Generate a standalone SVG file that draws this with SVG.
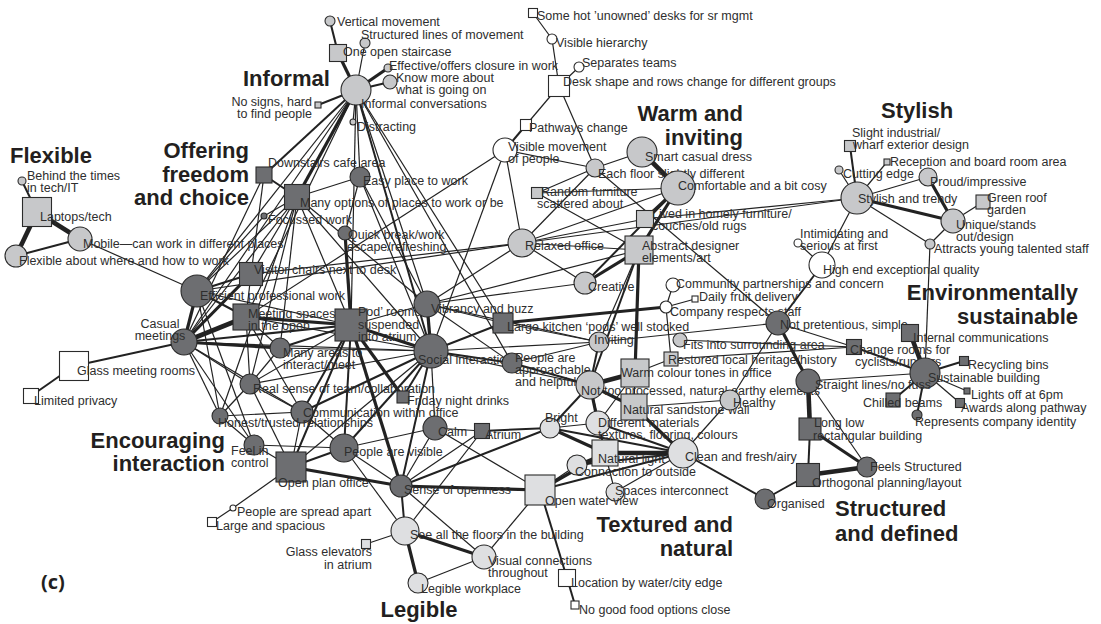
<svg xmlns="http://www.w3.org/2000/svg" width="1101" height="624" viewBox="0 0 1101 624">
<style>
.e{stroke:#222;fill:none}
.w1{stroke-width:1.2}.w2{stroke-width:2}.w3{stroke-width:3.2}.w4{stroke-width:4.6}
.L{fill:#c7c8ca;stroke:#2b2b2b;stroke-width:1.1}
.D{fill:#6d6e71;stroke:#2b2b2b;stroke-width:1.1}
.V{fill:#dedfe1;stroke:#2b2b2b;stroke-width:1.1}
.W{fill:#ffffff;stroke:#2b2b2b;stroke-width:1.1}
text{font-family:"Liberation Sans",Arial,sans-serif;font-size:12.5px;fill:#2e2e2e}
.h{font-weight:bold;font-size:22px;fill:#231f20}
.c{font-family:"Open Sans","Liberation Sans",sans-serif;font-weight:bold;font-size:20px;fill:#231f20}
</style>
<rect width="1101" height="624" fill="#ffffff"/>
<g id="connectors">
<line class="e w2" x1="330" y1="21" x2="338" y2="53"/>
<line class="e w3" x1="338" y1="53" x2="356" y2="90"/>
<line class="e w1" x1="365" y1="43" x2="356" y2="90"/>
<line class="e w3" x1="388" y1="68" x2="356" y2="90"/>
<line class="e w2" x1="390" y1="82" x2="356" y2="90"/>
<line class="e w2" x1="318" y1="105" x2="356" y2="90"/>
<line class="e w1" x1="353" y1="122" x2="356" y2="90"/>
<line class="e w3" x1="356" y1="90" x2="297" y2="197"/>
<line class="e w2" x1="356" y1="90" x2="264" y2="175"/>
<line class="e w1" x1="356" y1="90" x2="197" y2="291"/>
<line class="e w1" x1="356" y1="90" x2="184" y2="342"/>
<line class="e w1" x1="356" y1="90" x2="246" y2="317"/>
<line class="e w1" x1="356" y1="90" x2="351" y2="325"/>
<line class="e w1" x1="356" y1="90" x2="427" y2="304"/>
<line class="e w2" x1="356" y1="90" x2="431" y2="351"/>
<line class="e w1" x1="356" y1="90" x2="512" y2="363"/>
<line class="e w1" x1="356" y1="90" x2="360" y2="177"/>
<line class="e w1" x1="356" y1="90" x2="503" y2="323"/>
<line class="e w1" x1="533" y1="13" x2="552" y2="39"/>
<line class="e w1" x1="552" y1="39" x2="559" y2="86"/>
<line class="e w1" x1="579" y1="67" x2="559" y2="86"/>
<line class="e w1" x1="559" y1="86" x2="526" y2="125"/>
<line class="e w1" x1="559" y1="86" x2="595" y2="168"/>
<line class="e w2" x1="526" y1="125" x2="505" y2="150"/>
<line class="e w1" x1="505" y1="150" x2="246" y2="317"/>
<line class="e w1" x1="505" y1="150" x2="431" y2="351"/>
<line class="e w1" x1="505" y1="150" x2="595" y2="168"/>
<line class="e w1" x1="505" y1="150" x2="522" y2="243"/>
<line class="e w1" x1="595" y1="168" x2="537" y2="193"/>
<line class="e w1" x1="595" y1="168" x2="642" y2="152"/>
<line class="e w1" x1="595" y1="168" x2="522" y2="243"/>
<line class="e w1" x1="595" y1="168" x2="778" y2="323"/>
<line class="e w4" x1="642" y1="152" x2="678" y2="188"/>
<line class="e w3" x1="678" y1="188" x2="639" y2="250"/>
<line class="e w3" x1="678" y1="188" x2="645" y2="219"/>
<line class="e w1" x1="678" y1="188" x2="522" y2="243"/>
<line class="e w1" x1="678" y1="188" x2="537" y2="193"/>
<line class="e w2" x1="678" y1="188" x2="585" y2="283"/>
<line class="e w1" x1="522" y1="243" x2="639" y2="250"/>
<line class="e w1" x1="522" y1="243" x2="645" y2="219"/>
<line class="e w1" x1="522" y1="243" x2="585" y2="283"/>
<line class="e w1" x1="522" y1="243" x2="857" y2="198"/>
<line class="e w1" x1="522" y1="243" x2="197" y2="291"/>
<line class="e w1" x1="522" y1="243" x2="251" y2="274"/>
<line class="e w1" x1="522" y1="243" x2="427" y2="304"/>
<line class="e w1" x1="537" y1="193" x2="639" y2="250"/>
<line class="e w3" x1="639" y1="250" x2="585" y2="283"/>
<line class="e w3" x1="639" y1="250" x2="635" y2="373"/>
<line class="e w2" x1="639" y1="250" x2="590" y2="385"/>
<line class="e w1" x1="639" y1="250" x2="599" y2="342"/>
<line class="e w1" x1="645" y1="219" x2="857" y2="198"/>
<line class="e w2" x1="850" y1="146" x2="857" y2="198"/>
<line class="e w1" x1="887" y1="162" x2="857" y2="198"/>
<line class="e w1" x1="839" y1="170" x2="857" y2="198"/>
<line class="e w1" x1="928" y1="177" x2="857" y2="198"/>
<line class="e w3" x1="857" y1="198" x2="953" y2="221"/>
<line class="e w3" x1="928" y1="177" x2="953" y2="221"/>
<line class="e w1" x1="983" y1="202" x2="953" y2="221"/>
<line class="e w1" x1="953" y1="221" x2="930" y2="244"/>
<line class="e w1" x1="857" y1="198" x2="930" y2="244"/>
<line class="e w1" x1="857" y1="198" x2="822" y2="265"/>
<line class="e w1" x1="798" y1="243" x2="822" y2="265"/>
<line class="e w2" x1="822" y1="265" x2="778" y2="323"/>
<line class="e w1" x1="930" y1="244" x2="925" y2="373"/>
<line class="e w4" x1="910" y1="333" x2="925" y2="373"/>
<line class="e w2" x1="854" y1="347" x2="925" y2="373"/>
<line class="e w2" x1="964" y1="361" x2="925" y2="373"/>
<line class="e w1" x1="967" y1="391" x2="925" y2="373"/>
<line class="e w1" x1="960" y1="403" x2="925" y2="373"/>
<line class="e w2" x1="893" y1="400" x2="925" y2="373"/>
<line class="e w2" x1="917" y1="415" x2="925" y2="373"/>
<line class="e w1" x1="778" y1="323" x2="854" y2="347"/>
<line class="e w1" x1="680" y1="340" x2="854" y2="347"/>
<line class="e w1" x1="671" y1="359" x2="854" y2="347"/>
<line class="e w1" x1="808" y1="381" x2="925" y2="373"/>
<line class="e w3" x1="778" y1="323" x2="808" y2="381"/>
<line class="e w4" x1="808" y1="381" x2="810" y2="429"/>
<line class="e w2" x1="810" y1="429" x2="808" y2="475"/>
<line class="e w4" x1="808" y1="475" x2="867" y2="467"/>
<line class="e w3" x1="810" y1="429" x2="867" y2="467"/>
<line class="e w1" x1="808" y1="381" x2="867" y2="467"/>
<line class="e w2" x1="765" y1="499" x2="808" y2="475"/>
<line class="e w2" x1="683" y1="453" x2="765" y2="499"/>
<line class="e w1" x1="778" y1="323" x2="730" y2="400"/>
<line class="e w2" x1="22" y1="181" x2="37" y2="212"/>
<line class="e w4" x1="37" y1="212" x2="80" y2="239"/>
<line class="e w4" x1="37" y1="212" x2="16" y2="256"/>
<line class="e w2" x1="80" y1="239" x2="16" y2="256"/>
<line class="e w1" x1="80" y1="239" x2="197" y2="291"/>
<line class="e w2" x1="184" y1="342" x2="74" y2="366"/>
<line class="e w2" x1="74" y1="366" x2="31" y2="396"/>
<line class="e w3" x1="184" y1="342" x2="197" y2="291"/>
<line class="e w3" x1="184" y1="342" x2="251" y2="274"/>
<line class="e w4" x1="184" y1="342" x2="246" y2="317"/>
<line class="e w2" x1="184" y1="342" x2="351" y2="325"/>
<line class="e w3" x1="184" y1="342" x2="280" y2="348"/>
<line class="e w1" x1="184" y1="342" x2="250" y2="384"/>
<line class="e w1" x1="184" y1="342" x2="431" y2="351"/>
<line class="e w1" x1="184" y1="342" x2="220" y2="416"/>
<line class="e w1" x1="184" y1="342" x2="254" y2="445"/>
<line class="e w1" x1="184" y1="342" x2="302" y2="412"/>
<line class="e w1" x1="184" y1="342" x2="297" y2="197"/>
<line class="e w1" x1="184" y1="342" x2="264" y2="175"/>
<line class="e w1" x1="197" y1="291" x2="297" y2="197"/>
<line class="e w2" x1="197" y1="291" x2="251" y2="274"/>
<line class="e w1" x1="197" y1="291" x2="220" y2="416"/>
<line class="e w1" x1="197" y1="291" x2="254" y2="445"/>
<line class="e w1" x1="197" y1="291" x2="264" y2="216"/>
<line class="e w2" x1="197" y1="291" x2="246" y2="317"/>
<line class="e w1" x1="251" y1="274" x2="297" y2="197"/>
<line class="e w1" x1="251" y1="274" x2="246" y2="317"/>
<line class="e w1" x1="251" y1="274" x2="264" y2="175"/>
<line class="e w3" x1="246" y1="317" x2="351" y2="325"/>
<line class="e w1" x1="246" y1="317" x2="280" y2="348"/>
<line class="e w1" x1="246" y1="317" x2="250" y2="384"/>
<line class="e w1" x1="246" y1="317" x2="431" y2="351"/>
<line class="e w1" x1="246" y1="317" x2="302" y2="412"/>
<line class="e w3" x1="351" y1="325" x2="345" y2="233"/>
<line class="e w3" x1="351" y1="325" x2="431" y2="351"/>
<line class="e w2" x1="351" y1="325" x2="280" y2="348"/>
<line class="e w1" x1="351" y1="325" x2="250" y2="384"/>
<line class="e w2" x1="351" y1="325" x2="302" y2="412"/>
<line class="e w3" x1="351" y1="325" x2="403" y2="397"/>
<line class="e w2" x1="351" y1="325" x2="344" y2="448"/>
<line class="e w3" x1="351" y1="325" x2="401" y2="486"/>
<line class="e w2" x1="351" y1="325" x2="291" y2="467"/>
<line class="e w1" x1="351" y1="325" x2="427" y2="304"/>
<line class="e w1" x1="351" y1="325" x2="297" y2="197"/>
<line class="e w1" x1="351" y1="325" x2="197" y2="291"/>
<line class="e w2" x1="297" y1="197" x2="264" y2="175"/>
<line class="e w1" x1="297" y1="197" x2="264" y2="216"/>
<line class="e w1" x1="297" y1="197" x2="360" y2="177"/>
<line class="e w1" x1="297" y1="197" x2="427" y2="304"/>
<line class="e w1" x1="297" y1="197" x2="431" y2="351"/>
<line class="e w1" x1="297" y1="197" x2="280" y2="348"/>
<line class="e w1" x1="297" y1="197" x2="250" y2="384"/>
<line class="e w1" x1="297" y1="197" x2="220" y2="416"/>
<line class="e w1" x1="345" y1="233" x2="360" y2="177"/>
<line class="e w3" x1="431" y1="351" x2="427" y2="304"/>
<line class="e w2" x1="431" y1="351" x2="503" y2="323"/>
<line class="e w2" x1="431" y1="351" x2="512" y2="363"/>
<line class="e w1" x1="431" y1="351" x2="280" y2="348"/>
<line class="e w1" x1="431" y1="351" x2="250" y2="384"/>
<line class="e w2" x1="431" y1="351" x2="302" y2="412"/>
<line class="e w2" x1="431" y1="351" x2="403" y2="397"/>
<line class="e w2" x1="431" y1="351" x2="344" y2="448"/>
<line class="e w2" x1="431" y1="351" x2="401" y2="486"/>
<line class="e w1" x1="431" y1="351" x2="291" y2="467"/>
<line class="e w1" x1="431" y1="351" x2="435" y2="428"/>
<line class="e w1" x1="431" y1="351" x2="360" y2="177"/>
<line class="e w1" x1="431" y1="351" x2="599" y2="342"/>
<line class="e w1" x1="431" y1="351" x2="590" y2="385"/>
<line class="e w1" x1="427" y1="304" x2="503" y2="323"/>
<line class="e w1" x1="427" y1="304" x2="360" y2="177"/>
<line class="e w1" x1="427" y1="304" x2="639" y2="250"/>
<line class="e w1" x1="427" y1="304" x2="512" y2="363"/>
<line class="e w1" x1="427" y1="304" x2="599" y2="342"/>
<line class="e w1" x1="427" y1="304" x2="585" y2="283"/>
<line class="e w3" x1="503" y1="323" x2="666" y2="307"/>
<line class="e w1" x1="503" y1="323" x2="599" y2="342"/>
<line class="e w2" x1="512" y1="363" x2="590" y2="385"/>
<line class="e w1" x1="512" y1="363" x2="599" y2="342"/>
<line class="e w1" x1="599" y1="342" x2="778" y2="323"/>
<line class="e w1" x1="280" y1="348" x2="250" y2="384"/>
<line class="e w1" x1="250" y1="384" x2="302" y2="412"/>
<line class="e w1" x1="250" y1="384" x2="220" y2="416"/>
<line class="e w1" x1="250" y1="384" x2="291" y2="467"/>
<line class="e w1" x1="302" y1="412" x2="220" y2="416"/>
<line class="e w1" x1="302" y1="412" x2="344" y2="448"/>
<line class="e w1" x1="302" y1="412" x2="291" y2="467"/>
<line class="e w1" x1="220" y1="416" x2="254" y2="445"/>
<line class="e w1" x1="254" y1="445" x2="291" y2="467"/>
<line class="e w1" x1="254" y1="445" x2="344" y2="448"/>
<line class="e w2" x1="291" y1="467" x2="344" y2="448"/>
<line class="e w3" x1="291" y1="467" x2="401" y2="486"/>
<line class="e w1" x1="291" y1="467" x2="233" y2="508"/>
<line class="e w1" x1="233" y1="508" x2="212" y2="522"/>
<line class="e w1" x1="344" y1="448" x2="435" y2="428"/>
<line class="e w1" x1="344" y1="448" x2="401" y2="486"/>
<line class="e w1" x1="344" y1="448" x2="405" y2="531"/>
<line class="e w1" x1="435" y1="428" x2="401" y2="486"/>
<line class="e w1" x1="435" y1="428" x2="540" y2="490"/>
<line class="e w1" x1="435" y1="428" x2="482" y2="431"/>
<line class="e w1" x1="482" y1="431" x2="401" y2="486"/>
<line class="e w2" x1="482" y1="431" x2="550" y2="428"/>
<line class="e w1" x1="482" y1="431" x2="405" y2="531"/>
<line class="e w3" x1="401" y1="486" x2="540" y2="490"/>
<line class="e w2" x1="401" y1="486" x2="550" y2="428"/>
<line class="e w1" x1="401" y1="486" x2="484" y2="557"/>
<line class="e w2" x1="401" y1="486" x2="405" y2="531"/>
<line class="e w3" x1="405" y1="531" x2="418" y2="583"/>
<line class="e w3" x1="405" y1="531" x2="484" y2="557"/>
<line class="e w1" x1="405" y1="531" x2="366" y2="544"/>
<line class="e w1" x1="484" y1="557" x2="418" y2="583"/>
<line class="e w1" x1="484" y1="557" x2="540" y2="490"/>
<line class="e w1" x1="673" y1="285" x2="666" y2="307"/>
<line class="e w1" x1="666" y1="307" x2="695" y2="299"/>
<line class="e w1" x1="666" y1="307" x2="671" y2="359"/>
<line class="e w1" x1="635" y1="373" x2="671" y2="359"/>
<line class="e w4" x1="590" y1="385" x2="635" y2="373"/>
<line class="e w3" x1="590" y1="385" x2="634" y2="407"/>
<line class="e w2" x1="590" y1="385" x2="599" y2="342"/>
<line class="e w3" x1="590" y1="385" x2="598" y2="423"/>
<line class="e w2" x1="590" y1="385" x2="550" y2="428"/>
<line class="e w2" x1="590" y1="385" x2="605" y2="453"/>
<line class="e w1" x1="635" y1="373" x2="634" y2="407"/>
<line class="e w3" x1="634" y1="407" x2="683" y2="453"/>
<line class="e w2" x1="598" y1="423" x2="683" y2="453"/>
<line class="e w4" x1="605" y1="453" x2="683" y2="453"/>
<line class="e w2" x1="550" y1="428" x2="683" y2="453"/>
<line class="e w3" x1="550" y1="428" x2="605" y2="453"/>
<line class="e w2" x1="577" y1="465" x2="683" y2="453"/>
<line class="e w2" x1="577" y1="465" x2="605" y2="453"/>
<line class="e w1" x1="615" y1="492" x2="683" y2="453"/>
<line class="e w1" x1="615" y1="492" x2="605" y2="453"/>
<line class="e w2" x1="540" y1="490" x2="683" y2="453"/>
<line class="e w3" x1="540" y1="490" x2="605" y2="453"/>
<line class="e w2" x1="540" y1="490" x2="567" y2="578"/>
<line class="e w2" x1="567" y1="578" x2="575" y2="605"/>
<line class="e w1" x1="730" y1="400" x2="683" y2="453"/>
<line class="e w1" x1="730" y1="400" x2="634" y2="407"/>
<line class="e w1" x1="598" y1="423" x2="550" y2="428"/>
<line class="e w1" x1="577" y1="465" x2="540" y2="490"/>
<line class="e w1" x1="635" y1="373" x2="598" y2="423"/>
</g>
<g id="n-vm"><circle class="L" cx="330" cy="21" r="5"/><text x="337" y="26">Vertical movement</text></g>
<g id="n-slm"><circle class="L" cx="365" cy="43" r="5"/><text x="361" y="39">Structured lines of movement</text></g>
<g id="n-oos"><rect class="L" x="329.5" y="44.5" width="17" height="17"/><text x="343" y="56">One open staircase</text></g>
<g id="n-eff"><circle class="L" cx="388" cy="68" r="4"/><text x="389" y="70">Effective/offers closure in work</text></g>
<g id="n-kma"><circle class="L" cx="390" cy="82" r="7"/><text x="396" y="82">Know more about<tspan x="396" dy="12">what is going on</tspan></text></g>
<g id="n-ic"><circle class="L" cx="356" cy="90" r="15"/><text x="361" y="108">Informal conversations</text></g>
<g id="n-nos"><rect class="L" x="315" y="102" width="6" height="6"/><text x="312" y="106" text-anchor="end">No signs, hard<tspan x="312" dy="12">to find people</tspan></text></g>
<g id="n-dis"><circle class="L" cx="353" cy="122" r="3"/><text x="357" y="131">Distracting</text></g>
<g id="n-hot"><rect class="W" x="528.5" y="8.5" width="9" height="9"/><text x="537" y="20">Some hot ’unowned’ desks for sr mgmt</text></g>
<g id="n-vh"><circle class="W" cx="552" cy="39" r="5"/><text x="556" y="47">Visible hierarchy</text></g>
<g id="n-st"><circle class="W" cx="579" cy="67" r="5"/><text x="582" y="67">Separates teams</text></g>
<g id="n-dsr"><rect class="W" x="548.5" y="75.5" width="21" height="21"/><text x="563" y="86">Desk shape and rows change for different groups</text></g>
<g id="n-pc"><rect class="W" x="520.5" y="119.5" width="11" height="11"/><text x="529" y="132">Pathways change</text></g>
<g id="n-vmp"><circle class="W" cx="505" cy="150" r="12"/><text x="508" y="151">Visible movement<tspan x="508" dy="12">of people</tspan></text></g>
<g id="n-efd"><circle class="L" cx="595" cy="168" r="9"/><text x="598" y="178">Each floor slightly different</text></g>
<g id="n-scd"><circle class="L" cx="642" cy="152" r="15"/><text x="645" y="161">Smart casual dress</text></g>
<g id="n-cbc"><circle class="L" cx="678" cy="188" r="17"/><text x="678" y="190">Comfortable and a bit cosy</text></g>
<g id="n-rfs"><rect class="L" x="531.5" y="187.5" width="11" height="11"/><text x="541" y="196">Random furniture<tspan x="537" dy="12">scattered about</tspan></text></g>
<g id="n-sii"><rect class="L" x="844.5" y="140.5" width="11" height="11"/><text x="852" y="137">Slight industrial/<tspan x="853" dy="12">wharf exterior design</tspan></text></g>
<g id="n-rbr"><rect class="L" x="884" y="159" width="6" height="6"/><text x="890" y="166">Reception and board room area</text></g>
<g id="n-ce"><circle class="L" cx="839" cy="170" r="4"/><text x="843" y="178">Cutting edge</text></g>
<g id="n-pi"><circle class="L" cx="928" cy="177" r="9"/><text x="930" y="186">Proud/impressive</text></g>
<g id="n-sat"><circle class="L" cx="857" cy="198" r="16"/><text x="858" y="203">Stylish and trendy</text></g>
<g id="n-grg"><rect class="L" x="976" y="195" width="14" height="14"/><text x="987" y="202">Green roof<tspan x="987" dy="12">garden</tspan></text></g>
<g id="n-usd"><circle class="L" cx="953" cy="221" r="12"/><text x="956" y="229">Unique/stands<tspan x="956" dy="12">out/design</tspan></text></g>
<g id="n-ayt"><circle class="L" cx="930" cy="244" r="5"/><text x="934" y="253">Attracts young talented staff</text></g>
<g id="n-isf"><circle class="W" cx="798" cy="243" r="4"/><text x="800" y="238">Intimidating and<tspan x="800" dy="12">serious at first</tspan></text></g>
<g id="n-heq"><circle class="W" cx="822" cy="265" r="13"/><text x="823" y="274">High end exceptional quality</text></g>
<g id="n-bt"><circle class="L" cx="22" cy="181" r="4"/><text x="27" y="180">Behind the times<tspan x="27" dy="12">in tech/IT</tspan></text></g>
<g id="n-lt"><rect class="L" x="22.5" y="197.5" width="29" height="29"/><text x="40" y="221">Laptops/tech</text></g>
<g id="n-mob"><circle class="L" cx="80" cy="239" r="12"/><text x="83" y="248">Mobile—can work in different places</text></g>
<g id="n-fab"><circle class="L" cx="16" cy="256" r="11"/><text x="19" y="265">Flexible about where and how to work</text></g>
<g id="n-dca"><rect class="D" x="256" y="167" width="16" height="16"/><text x="268" y="167">Downstairs cafe area</text></g>
<g id="n-mop"><rect class="D" x="284.5" y="184.5" width="25" height="25"/><text x="300" y="207">Many options of places to work or be</text></g>
<g id="n-ept"><circle class="D" cx="360" cy="177" r="10"/><text x="363" y="185">Easy place to work</text></g>
<g id="n-fw"><circle class="D" cx="264" cy="216" r="3"/><text x="268" y="224">Focussed work</text></g>
<g id="n-qb"><circle class="D" cx="345" cy="233" r="7"/><text x="348" y="239">Quick break/work<tspan x="347" dy="12">escape/refreshing</tspan></text></g>
<g id="n-vc"><rect class="D" x="239.5" y="262.5" width="23" height="23"/><text x="254" y="274">Visitor chairs next to desk</text></g>
<g id="n-epw"><circle class="D" cx="197" cy="291" r="16"/><text x="200" y="300">Efficient professional work</text></g>
<g id="n-ms"><rect class="D" x="233" y="304" width="26" height="26"/><text x="248" y="318">Meeting spaces<tspan x="248" dy="12">in the open</tspan></text></g>
<g id="n-cm"><circle class="D" cx="184" cy="342" r="13"/><text x="160" y="328" text-anchor="middle">Casual<tspan x="160" dy="12">meetings</tspan></text></g>
<g id="n-gmr"><rect class="W" x="59.5" y="351.5" width="29" height="29"/><text x="77" y="375">Glass meeting rooms</text></g>
<g id="n-lp"><rect class="W" x="23.5" y="388.5" width="15" height="15"/><text x="34" y="405">Limited privacy</text></g>
<g id="n-pod"><rect class="D" x="335" y="309" width="32" height="32"/><text x="358" y="316">Pod’ rooms<tspan x="358" dy="13">suspended</tspan><tspan x="358" dy="12">into atrium</tspan></text></g>
<g id="n-vab"><circle class="D" cx="427" cy="304" r="13"/><text x="431" y="313">Vibrancy and buzz</text></g>
<g id="n-lk"><rect class="D" x="493" y="313" width="20" height="20"/><text x="507" y="331">Large kitchen ‘pods’  well stocked</text></g>
<g id="n-si"><circle class="D" cx="431" cy="351" r="17"/><text x="418" y="364">Social interaction</text></g>
<g id="n-paa"><circle class="D" cx="512" cy="363" r="10"/><text x="515" y="362">People are<tspan x="515" dy="12">approachable</tspan><tspan x="515" dy="12">and helpful</tspan></text></g>
<g id="n-mat"><circle class="D" cx="280" cy="348" r="10"/><text x="283" y="357">Many areas to<tspan x="283" dy="12">interact/meet</tspan></text></g>
<g id="n-rst"><circle class="D" cx="250" cy="384" r="10"/><text x="253" y="393">Real sense of team/collaboration</text></g>
<g id="n-fnd"><rect class="D" x="397" y="391" width="12" height="12"/><text x="407" y="405">Friday night drinks</text></g>
<g id="n-cwo"><circle class="D" cx="302" cy="412" r="11"/><text x="303" y="417">Communication within office</text></g>
<g id="n-htr"><circle class="D" cx="220" cy="416" r="8"/><text x="218" y="427">Honest/trusted relationships</text></g>
<g id="n-fic"><circle class="D" cx="254" cy="445" r="10"/><text x="231" y="455">Feel in<tspan x="231" dy="12">control</tspan></text></g>
<g id="n-opo"><rect class="D" x="276" y="452" width="30" height="30"/><text x="278" y="487">Open plan office</text></g>
<g id="n-pav"><circle class="D" cx="344" cy="448" r="14"/><text x="344" y="456">People are visible</text></g>
<g id="n-calm"><circle class="D" cx="435" cy="428" r="12"/><text x="438" y="436">Calm</text></g>
<g id="n-atr"><rect class="D" x="474.5" y="423.5" width="15" height="15"/><text x="485" y="439">Atrium</text></g>
<g id="n-soo"><circle class="D" cx="401" cy="486" r="11"/><text x="404" y="494">Sense of openness</text></g>
<g id="n-psa"><circle class="W" cx="233" cy="508" r="3"/><text x="237" y="516">People are spread apart</text></g>
<g id="n-las"><rect class="W" x="207.5" y="517.5" width="9" height="9"/><text x="216" y="530">Large and spacious</text></g>
<g id="n-ge"><rect class="V" x="361.5" y="539.5" width="9" height="9"/><text x="372" y="556" text-anchor="end">Glass elevators<tspan x="372" dy="13">in atrium</tspan></text></g>
<g id="n-saf"><circle class="V" cx="405" cy="531" r="14"/><text x="410" y="539">See all the floors in the building</text></g>
<g id="n-vct"><circle class="V" cx="484" cy="557" r="12"/><text x="488" y="565">Visual connections<tspan x="488" dy="12">throughout</tspan></text></g>
<g id="n-lw"><circle class="V" cx="418" cy="583" r="10"/><text x="421" y="593">Legible workplace</text></g>
<g id="n-ro"><circle class="L" cx="522" cy="243" r="14"/><text x="525" y="250">Relaxed office</text></g>
<g id="n-lih"><rect class="L" x="636.5" y="210.5" width="17" height="17"/><text x="652" y="218">Lived in homely furniture/<tspan x="652" dy="12">couches/old rugs</tspan></text></g>
<g id="n-ade"><rect class="L" x="625" y="236" width="28" height="28"/><text x="642" y="250">Abstract designer<tspan x="642" dy="12">elements/art</tspan></text></g>
<g id="n-cr"><circle class="L" cx="585" cy="283" r="11"/><text x="588" y="291">Creative</text></g>
<g id="n-cpc"><circle class="W" cx="673" cy="285" r="7"/><text x="676" y="288">Community partnerships and concern</text></g>
<g id="n-dfd"><rect class="W" x="692" y="296" width="6" height="6"/><text x="699" y="301">Daily fruit delivery</text></g>
<g id="n-crs"><circle class="W" cx="666" cy="307" r="6"/><text x="670" y="316">Company respects staff</text></g>
<g id="n-npt"><circle class="D" cx="778" cy="323" r="12"/><text x="780" y="329">Not pretentious, simple</text></g>
<g id="n-inv"><circle class="L" cx="599" cy="342" r="10"/><text x="594" y="344">Inviting</text></g>
<g id="n-fis"><circle class="L" cx="680" cy="340" r="7"/><text x="683" y="349">Fits into surrounding area</text></g>
<g id="n-rlh"><rect class="L" x="664" y="352" width="14" height="14"/><text x="668" y="364">Restored local heritage/history</text></g>
<g id="n-wct"><rect class="L" x="621" y="359" width="28" height="28"/><text x="621" y="377">Warm colour tones in office</text></g>
<g id="n-ntp"><circle class="L" cx="590" cy="385" r="14"/><text x="581" y="395">Not too processed, natural earthy elements</text></g>
<g id="n-nsw"><rect class="L" x="621" y="394" width="26" height="26"/><text x="623" y="414">Natural sandstone wall</text></g>
<g id="n-hea"><circle class="L" cx="730" cy="400" r="10"/><text x="733" y="407">Healthy</text></g>
<g id="n-bri"><circle class="V" cx="550" cy="428" r="10"/><text x="545" y="422">Bright</text></g>
<g id="n-dm"><circle class="V" cx="598" cy="423" r="12"/><text x="598" y="427">Different materials<tspan x="598" dy="12">textures, flooring, colours</tspan></text></g>
<g id="n-nl"><rect class="V" x="592" y="440" width="26" height="26"/><text x="598" y="463">Natural light</text></g>
<g id="n-cfa"><circle class="V" cx="683" cy="453" r="15"/><text x="685" y="461">Clean and fresh/airy</text></g>
<g id="n-cto"><circle class="V" cx="577" cy="465" r="10"/><text x="575" y="476">Connection to outside</text></g>
<g id="n-sic"><circle class="V" cx="615" cy="492" r="9"/><text x="615" y="495">Spaces interconnect</text></g>
<g id="n-owv"><rect class="V" x="525" y="475" width="30" height="30"/><text x="545" y="505">Open water view</text></g>
<g id="n-org"><circle class="D" cx="765" cy="499" r="10"/><text x="767" y="508">Organised</text></g>
<g id="n-lwc"><rect class="W" x="558.5" y="569.5" width="17" height="17"/><text x="571" y="587">Location by water/city edge</text></g>
<g id="n-ngf"><rect class="W" x="571" y="601" width="8" height="8"/><text x="579" y="614">No good food options close</text></g>
<g id="n-icom"><rect class="D" x="901.5" y="324.5" width="17" height="17"/><text x="913" y="342">Internal communications</text></g>
<g id="n-crf"><rect class="D" x="846.5" y="339.5" width="15" height="15"/><text x="850" y="354">Change rooms for<tspan x="855" dy="12">cyclists/runners</tspan></text></g>
<g id="n-sb"><circle class="D" cx="925" cy="373" r="15"/><text x="928" y="382">Sustainable building</text></g>
<g id="n-rb"><rect class="D" x="959.5" y="356.5" width="9" height="9"/><text x="968" y="369">Recycling bins</text></g>
<g id="n-lo6"><rect class="D" x="964" y="388" width="6" height="6"/><text x="971" y="399">Lights off at 6pm</text></g>
<g id="n-aap"><rect class="D" x="955.5" y="398.5" width="9" height="9"/><text x="961" y="412">Awards along pathway</text></g>
<g id="n-cb"><rect class="D" x="886" y="393" width="14" height="14"/><text x="863" y="407">Chilled beams</text></g>
<g id="n-rci"><circle class="D" cx="917" cy="415" r="5"/><text x="915" y="426">Represents company identity</text></g>
<g id="n-sln"><circle class="D" cx="808" cy="381" r="12"/><text x="815" y="389">Straight lines/no fuss</text></g>
<g id="n-llr"><rect class="D" x="799" y="418" width="22" height="22"/><text x="814" y="427">Long low<tspan x="813" dy="13">rectangular building</tspan></text></g>
<g id="n-opl"><rect class="D" x="796.5" y="463.5" width="23" height="23"/><text x="812" y="487">Orthogonal planning/layout</text></g>
<g id="n-fs"><circle class="D" cx="867" cy="467" r="10"/><text x="870" y="471">Feels Structured</text></g>
<g id="headings">
<text class="h" x="243" y="86">Informal</text>
<text class="h" x="10" y="163">Flexible</text>
<text class="h" x="249" y="158" text-anchor="end">Offering<tspan x="249" dy="23.5">freedom</tspan><tspan x="249" dy="23.5">and choice</tspan></text>
<text class="h" x="743" y="121" text-anchor="end">Warm and<tspan x="743" dy="24">inviting</tspan></text>
<text class="h" x="881" y="118">Stylish</text>
<text class="h" x="1078" y="300" text-anchor="end">Environmentally<tspan x="1078" dy="24">sustainable</tspan></text>
<text class="h" x="225" y="448" text-anchor="end">Encouraging<tspan x="225" dy="23">interaction</tspan></text>
<text class="h" x="733" y="532" text-anchor="end">Textured and<tspan x="733" dy="24">natural</tspan></text>
<text class="h" x="835" y="516">Structured<tspan x="835" dy="25">and defined</tspan></text>
<text class="h" x="419" y="617" text-anchor="middle">Legible</text>
<text class="c" x="41" y="589">(c)</text>
</g>
</svg>
